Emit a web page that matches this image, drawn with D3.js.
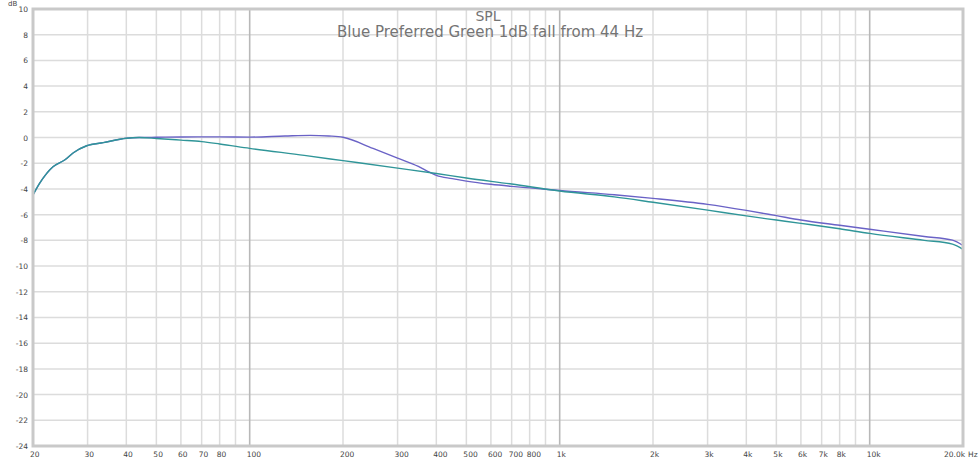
<!DOCTYPE html>
<html><head><meta charset="utf-8">
<script src="https://cdn.jsdelivr.net/npm/d3@7"></script>
<style>body{margin:0;background:#fff;}svg{display:block;}</style>
</head><body>
<svg id="c" width="980" height="464"></svg>
<script>
const titleText = "SPL";
const subtitleText = "Blue Preferred Green 1dB fall from 44 Hz";
const yTicks = [10,8,6,4,2,0,-2,-4,-6,-8,-10,-12,-14,-16,-18,-20,-22,-24];
const xGridFreqs = [30,40,50,60,70,80,90,100,200,300,400,500,600,700,800,900,1000,2000,3000,4000,5000,6000,7000,8000,9000,10000];
const xMajorFreqs = [100,1000,10000];
const xLabelFreqs = [20,30,40,50,60,70,80,100,200,300,400,500,600,700,800,1000,2000,3000,4000,5000,6000,7000,8000,10000];
const xLabelTexts = ["20","30","40","50","60","70","80","100","200","300","400","500","600","700","800","1k","2k","3k","4k","5k","6k","7k","8k","10k"];

const blueFreq = [20,21,23.2,25.3,27,29.8,33.7,40,44,50,60,70,80,100,130,157,180,200,250,300,350,380,400,450,500,600,700,800,900,1000,1500,2000,3000,4000,5000,6000,8000,10000,15000,18500,20000];
const blueDb   = [-4.47,-3.57,-2.27,-1.75,-1.18,-0.64,-0.4,-0.06,0,0.02,0.04,0.05,0.05,0.03,0.12,0.17,0.12,0.02,-0.85,-1.6,-2.25,-2.7,-2.95,-3.2,-3.39,-3.64,-3.8,-3.92,-4.02,-4.12,-4.45,-4.73,-5.2,-5.67,-6.08,-6.42,-6.83,-7.14,-7.7,-7.98,-8.4];

const greenFreq = [20,21,23.2,25.3,27,29.8,33.7,40,44,50,60,70,80,100,150,200,300,400,500,700,1000,1500,2000,3000,4000,5000,6000,8000,10000,15000,18500,20000];
const greenDb   = [-4.47,-3.57,-2.27,-1.75,-1.18,-0.64,-0.4,-0.06,0,-0.07,-0.2,-0.32,-0.5,-0.84,-1.39,-1.8,-2.38,-2.8,-3.15,-3.62,-4.16,-4.62,-5.04,-5.65,-6.1,-6.42,-6.68,-7.1,-7.46,-8.0,-8.29,-8.7];

const L = 33, R = 963, T = 9, B = 446;
const svg = d3.select("#c");
const x = d3.scaleLog().domain([20,20000]).range([L,R]);
const y = d3.scaleLinear().domain([-24,10]).range([B,T]);
const font = "'DejaVu Sans', sans-serif";

// horizontal grid
svg.append("g").selectAll("line").data(yTicks).join("line")
  .attr("x1",L).attr("x2",R).attr("y1",d=>y(d)).attr("y2",d=>y(d))
  .attr("stroke","#dcdcdc").attr("stroke-width",1.5);
// vertical grid
svg.append("g").selectAll("line").data(xGridFreqs).join("line")
  .attr("x1",d=>x(d)).attr("x2",d=>x(d)).attr("y1",T).attr("y2",B)
  .attr("stroke",d=>xMajorFreqs.includes(d)?"#b8b8b8":"#dcdcdc")
  .attr("stroke-width",d=>xMajorFreqs.includes(d)?1.6:1.5);

// titles
svg.append("text").attr("x",488).attr("y",21).attr("text-anchor","middle")
  .attr("font-family",font).attr("font-size",14).attr("fill","#747474").text(titleText);
svg.append("text").attr("x",490).attr("y",37).attr("text-anchor","middle")
  .attr("font-family",font).attr("font-size",15).attr("fill","#747474").text(subtitleText);

// curves
const line = (fs, ds) => d3.line().x((d,i)=>x(fs[i])).y((d,i)=>y(ds[i])).curve(d3.curveMonotoneX)(ds);
svg.append("path").attr("d",line(blueFreq,blueDb)).attr("fill","none")
  .attr("stroke","#6a62c6").attr("stroke-width",1.4);
svg.append("path").attr("d",line(greenFreq,greenDb)).attr("fill","none")
  .attr("stroke","#2f9598").attr("stroke-width",1.4);

// frame
svg.append("rect").attr("x",L).attr("y",T).attr("width",R-L).attr("height",B-T)
  .attr("fill","none").attr("stroke","#c9c9c9").attr("stroke-width",3);

// y labels
svg.append("g").selectAll("text").data(yTicks).join("text")
  .attr("x",28).attr("y",d=>y(d)+3).attr("text-anchor","end")
  .attr("font-family",font).attr("font-size",7.5).attr("fill","#444")
  .text(d=>d<0?"-"+Math.abs(d):d);
svg.append("text").attr("x",8).attr("y",6).attr("font-family",font)
  .attr("font-size",7).attr("fill","#444").text("dB");

// x labels
svg.append("g").selectAll("text").data(xLabelFreqs).join("text")
  .attr("x",d=>x(d)-3).attr("y",457)
  .attr("font-family",font).attr("font-size",7.5).attr("fill","#444")
  .text((d,i)=>xLabelTexts[i]);
svg.append("text").attr("x",x(20000)+2).attr("y",457).attr("text-anchor","end")
  .attr("font-family",font).attr("font-size",7.5).attr("fill","#444").text("20.0k");
svg.append("text").attr("x",x(20000)+5).attr("y",457)
  .attr("font-family",font).attr("font-size",7.5).attr("fill","#444").text("Hz");
</script>
</body></html>
